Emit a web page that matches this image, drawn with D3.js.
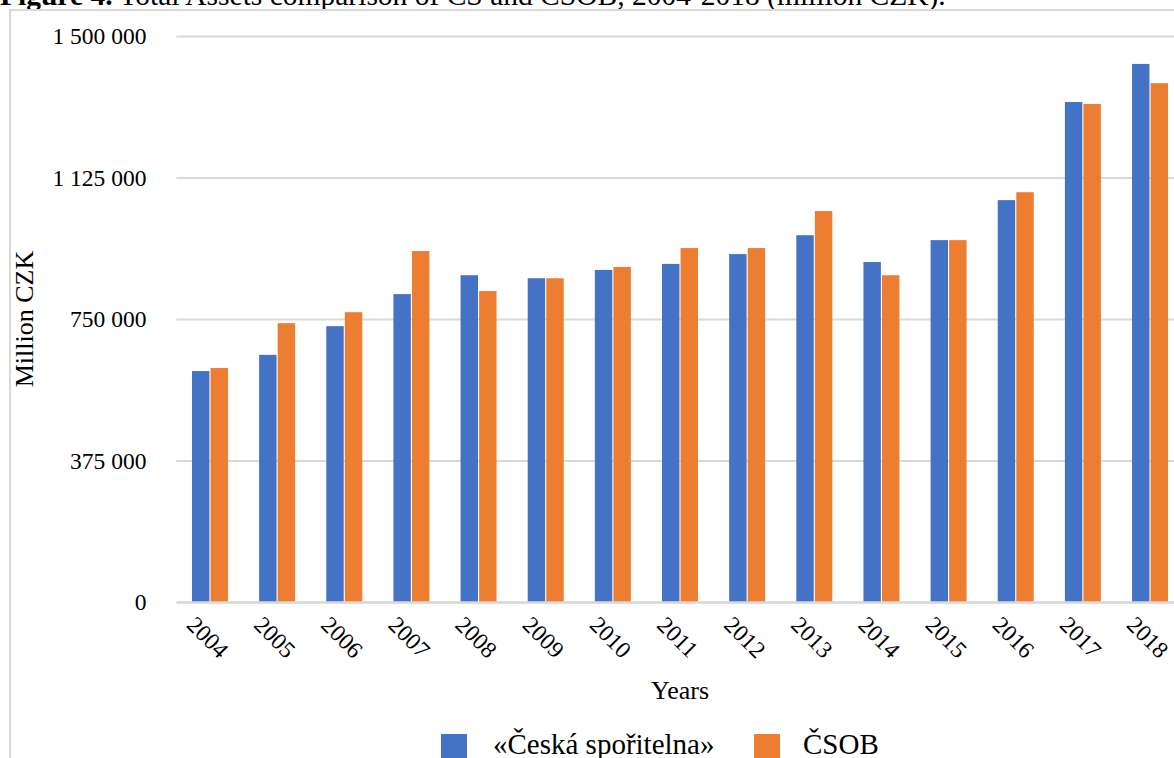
<!DOCTYPE html>
<html>
<head>
<meta charset="utf-8">
<script src="https://cdn.jsdelivr.net/npm/d3@7"></script>
<style>
  html, body { margin: 0; padding: 0; background: #fff; overflow: hidden; }
  svg { display: block; }
  svg text { font-family: "Liberation Serif", "Times New Roman", serif; }
</style>
</head>
<body>
<svg id="chart" width="1174" height="758"></svg>
<script>
// Total assets, million CZK
const years = ["2004","2005","2006","2007","2008","2009","2010","2011","2012","2013","2014","2015","2016","2017","2018"];
const csValues   = [612000, 655000, 731000, 816000, 866000, 858000, 880000, 896000, 922000, 972000, 901000, 959000, 1065000, 1325000, 1426000];
const csobValues = [620000, 739000, 768000, 930000, 824000, 858000, 888000, 938000, 938000, 1036000, 866000, 959000, 1086000, 1320000, 1375000];
const seriesNames = ["«Česká spořitelna»", "ČSOB"];
const yTicks = [0, 375000, 750000, 1125000, 1500000];

const colors = ["#4472C4", "#ED7D31"];
const serif = "'Liberation Serif', 'Times New Roman', serif";
const svg = d3.select("#chart");

const plot = { left: 176.4, right: 1183.6, top: 36, bottom: 602 };

// caption (partly above the frame)
const title = svg.append("text").attr("x", 0).attr("y", 5).attr("font-size", 29.5)
  .attr("font-family", serif).attr("fill", "#000");
title.append("tspan").attr("font-weight", "bold").text("Figure 4.");
title.append("tspan").text(" Total Assets comparison of ČS and ČSOB, 2004-2018 (million CZK).");

// chart frame
svg.append("path")
  .attr("d", "M10,758 L10,10 L1174,10")
  .attr("fill", "none").attr("stroke", "#d9d9d9").attr("stroke-width", 2);

const x0 = d3.scaleBand().domain(years).range([plot.left, plot.right])
  .paddingInner(0.464).paddingOuter(0.232);
const x1 = d3.scaleBand().domain([0, 1]).range([0, x0.bandwidth()]).paddingInner(0.06);
const y = d3.scaleLinear().domain([0, 1500000]).range([plot.bottom, plot.top]);

const fmt = v => d3.format(",")(v).replace(/,/g, " ");

// gridlines and value axis
const yAxis = d3.axisLeft(y).tickValues(yTicks).tickSize(-(plot.right - plot.left)).tickPadding(30).tickFormat(fmt);
const gy = svg.append("g").attr("transform", `translate(${plot.left},0)`).call(yAxis)
  .attr("font-family", serif);
gy.select(".domain").remove();
gy.selectAll(".tick line").attr("stroke", "#d9d9d9").attr("stroke-width", 2);
gy.selectAll(".tick text").attr("font-size", 23.5).attr("fill", "#000").attr("font-family", serif);

// bars
const rows = years.map((yr, i) => ({ year: yr, vals: [csValues[i], csobValues[i]] }));
const groups = svg.append("g").selectAll("g").data(rows).join("g")
  .attr("transform", d => `translate(${x0(d.year)},0)`);
groups.selectAll("rect").data(d => d.vals.map((v, k) => ({ k, v }))).join("rect")
  .attr("x", d => x1(d.k))
  .attr("width", x1.bandwidth())
  .attr("y", d => y(d.v))
  .attr("height", d => y(0) - y(d.v))
  .attr("fill", d => colors[d.k]);

// category axis
const xAxis = d3.axisBottom(x0).tickSize(0).tickPadding(0);
const gx = svg.append("g").attr("transform", `translate(0,${plot.bottom})`).call(xAxis)
  .attr("font-family", serif);
gx.select(".domain").attr("stroke", "#d9d9d9").attr("stroke-width", 2.5);
gx.selectAll(".tick text")
  .attr("font-size", 23.5).attr("fill", "#000").attr("font-family", serif)
  .attr("text-anchor", "middle")
  .attr("dy", "0.35em")
  .attr("transform", "translate(-2,35) rotate(45)");

// axis titles
svg.append("text").attr("transform", `translate(33,${(plot.top + plot.bottom) / 2}) rotate(-90)`)
  .attr("text-anchor", "middle").attr("font-size", 26).attr("font-family", serif).text("Million CZK");
svg.append("text").attr("x", (plot.left + plot.right) / 2).attr("y", 699)
  .attr("text-anchor", "middle").attr("font-size", 26).attr("font-family", serif).text("Years");

// legend
const legend = [{ x: 441, tx: 493 }, { x: 754, tx: 803 }];
const lg = svg.append("g").selectAll("g").data(seriesNames).join("g");
lg.append("rect").attr("x", (d, i) => legend[i].x).attr("y", 734).attr("width", 26).attr("height", 26)
  .attr("fill", (d, i) => colors[i]);
lg.append("text").attr("x", (d, i) => legend[i].tx).attr("y", 754).attr("font-size", 29)
  .attr("font-family", serif).text(d => d);
</script>
</body>
</html>
